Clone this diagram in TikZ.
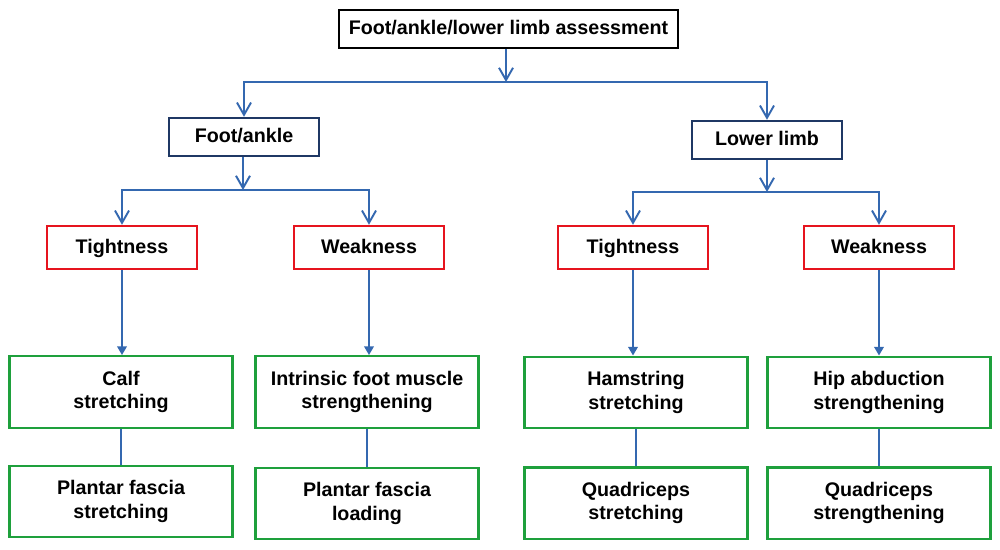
\documentclass[tikz,border=0pt]{standalone}
\usepackage{fontspec}
\setmainfont{Liberation Sans}
\usetikzlibrary{arrows.meta}
\tikzset{box/.style = {draw, line width=1.4pt, text=black, align=center, inner sep=0pt,
                       font=\bfseries\fontsize{11.2}{13.5}\selectfont},
         onerow/.style = {box, text height=8pt, text depth=1.2pt},
         topbox/.style = {onerow, draw=black, minimum width=6.78cm, minimum height=0.76cm},
         areabox/.style = {onerow, draw=dnavy, minimum width=3cm, minimum height=0.76cm},
         findbox/.style = {onerow, draw=bred, minimum width=3cm, minimum height=0.86cm},
         treatbox/.style = {box, draw=bgreen, minimum width=4.46cm, minimum height=1.43cm},
         link/.style = {lblue, line width=1.1pt},
         drop/.style = {link, -{Straight Barb[length=7pt,width=8pt]}},
         fork/.style = {link, {Straight Barb[length=7pt,width=8pt]}-{Straight Barb[length=7pt,width=8pt]}},
         feed/.style = {link, -{Triangle[length=5pt,width=5.5pt]}}}
\definecolor{lblue}{RGB}{52, 104, 176}
\definecolor{dnavy}{RGB}{31, 56, 100}
\definecolor{bred}{RGB}{230, 20, 30}
\definecolor{bgreen}{RGB}{30, 160, 60}

\begin{document}
\begin{tikzpicture}[x=0.02cm, y=-0.02cm]
    \useasboundingbox (0, 0) rectangle (1000, 549);

    \node [topbox] (assess) at (508.5, 29) {Foot/ankle/lower limb assessment};
    \node [areabox] (foot) at (244, 137) {Foot/ankle};
    \node [areabox] (limb) at (767, 140) {Lower limb};

    \node [findbox] (ftight) at (122, 247.5) {Tightness};
    \node [findbox] (fweak) at (369, 247.5) {Weakness};
    \node [findbox] (ltight) at (633, 247.5) {Tightness};
    \node [findbox] (lweak) at (879, 247.5) {Weakness};

    \node [treatbox] (calf) at (121, 392) {Calf\\stretching};
    \node [treatbox] (intr) at (367, 392) {Intrinsic foot muscle\\strengthening};
    \node [treatbox] (ham) at (636, 392.5) {Hamstring\\stretching};
    \node [treatbox] (hip) at (879, 392.5) {Hip abduction\\strengthening};

    \node [treatbox] (pfstr) at (121, 501.5) {Plantar fascia\\stretching};
    \node [treatbox] (pfload) at (367, 503.5) {Plantar fascia\\loading};
    \node [treatbox] (quadstr) at (636, 503) {Quadriceps\\stretching};
    \node [treatbox] (quadst) at (879, 503) {Quadriceps\\strengthening};

    \coordinate (j0) at (506, 82);
    \coordinate (j1) at (243, 190);
    \coordinate (j2) at (767, 192);

    \draw [drop] (assess.south -| j0) -- (j0);
    \draw [fork] (foot.north) |- (j0) -| (limb.north);

    \draw [drop] (foot.south -| j1) -- (j1);
    \draw [fork] (ftight.north) |- (j1) -| (fweak.north);
    \draw [drop] (limb.south) -- (j2);
    \draw [fork] (ltight.north) |- (j2) -| (lweak.north);

    \draw [feed] (ftight.south) -- (ftight.south |- calf.north);
    \draw [feed] (fweak.south) -- (fweak.south |- intr.north);
    \draw [feed] (ltight.south) -- (ltight.south |- ham.north);
    \draw [feed] (lweak.south) -- (lweak.south |- hip.north);

    \draw [link] (calf) -- (pfstr);
    \draw [link] (intr) -- (pfload);
    \draw [link] (ham) -- (quadstr);
    \draw [link] (hip) -- (quadst);
\end{tikzpicture}
\end{document}
